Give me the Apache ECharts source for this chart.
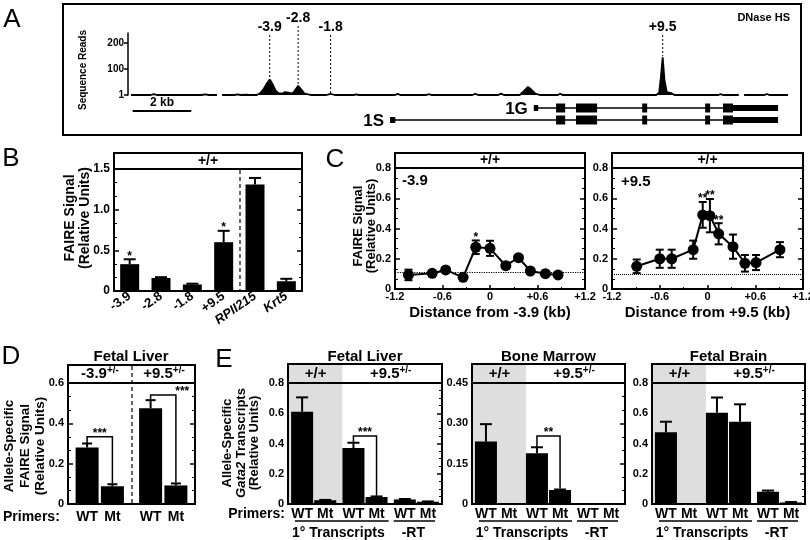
<!DOCTYPE html>
<html>
<head>
<meta charset="utf-8">
<script src="https://cdn.jsdelivr.net/npm/echarts@6/dist/echarts.min.js"></script>
<style>
  html, body { margin: 0; padding: 0; background: #fff; }
  #chart { width: 810px; height: 540px; }
</style>
</head>
<body>
<div id="chart"></div>
<script>
// ---------- A: DNase HS track (kb, sequence reads; '-' = no coverage) ----------
const dnaseTrack = [
  [-8.66, 1], [-7.98, 1], [-7.88, 4], [-7.78, 1], [-6.25, 1], [-6.12, 3], [-6.0, 1], [-5.72, 1],
  [-5.64, '-'],
  [-5.55, 1], [-5.12, 1], [-5.02, 3], [-4.92, 1], [-4.72, 2], [-4.6, 1],
  [-4.36, 1], [-4.24, 8], [-4.12, 25], [-4.02, 45], [-3.92, 60], [-3.82, 42], [-3.72, 18], [-3.62, 8],
  [-3.5, 6], [-3.4, 12], [-3.28, 10], [-3.15, 6], [-3.06, 18], [-2.95, 36], [-2.84, 22], [-2.73, 6],
  [-2.6, 3], [-2.5, 1], [-1.98, 1], [-1.84, 5], [-1.7, 1], [-1.05, 1], [-0.96, 3], [-0.88, 1],
  [0.36, 1], [0.45, 5], [0.54, 1], [1.43, 1], [1.51, 4], [1.6, 1], [3.0, 1], [3.1, 5], [3.2, 1],
  [3.88, 1], [3.98, 6], [4.08, 1], [4.62, 1], [4.75, 15], [4.9, 32], [5.03, 20], [5.15, 6], [5.3, 1],
  [5.92, 1], [6.0, 6], [6.08, 1], [6.74, 1], [6.8, 3], [6.86, 1], [8.14, 1], [8.2, 3], [8.26, 1],
  [9.28, 1], [9.38, 10], [9.44, 70], [9.5, 145], [9.56, 60], [9.64, 12], [9.8, 8], [9.9, 1],
  [11.4, 1], [11.48, 4], [11.56, 1], [12.1, 1],
  [12.19, '-'],
  [12.28, 1], [12.98, 1], [13.06, 5], [13.14, 1], [13.78, 1]
];
const readTicks = [1, 100, 200];
const hotspotNames = ['-3.9', '-2.8', '-1.8', '+9.5'];
const hotspotKb = [-3.92, -2.95, -1.84, 9.5];
const hotspotPeak = [60, 36, 5, 145];

// gene models (exon start / end in kb)
const transcripts = ['1S', '1G'];
const exon1GStart = [5.1, 5.86, 6.54, 8.8, 10.95, 11.56, 11.9];
const exon1GEnd = [5.25, 6.17, 7.26, 8.97, 11.12, 11.9, 13.44];
const exon1SStart = [0.19, 5.86, 6.54, 8.8, 10.95, 11.56, 11.9];
const exon1SEnd = [0.37, 6.17, 7.26, 8.97, 11.12, 11.9, 13.44];
const exonKind = ['utr', 'cds', 'cds', 'cds', 'cds', 'cds', 'utr'];

// ---------- B: FAIRE, +/+ ----------
const bCats = ['-3.9', '-2.8', '-1.8', '+9.5', 'RPII215', 'Krt5'];
const bVals = [0.33, 0.16, 0.08, 0.60, 1.31, 0.12];
const bErr = [0.06, 0.01, 0.01, 0.14, 0.08, 0.03];
const bStars = ['*', '', '', '*', '', ''];

// ---------- C: FAIRE scan ----------
const cLeftKb = [-1.03, -0.73, -0.56, -0.34, -0.18, 0.0, 0.2, 0.36, 0.51, 0.7, 0.86];
const cLeftVal = [0.093, 0.104, 0.126, 0.077, 0.276, 0.269, 0.154, 0.207, 0.119, 0.101, 0.093];
const cLeftErr = [0.035, 0.01, 0.012, 0.01, 0.045, 0.05, 0.02, 0.015, 0.012, 0.01, 0.01];
const cLeftStars = ['', '', '', '', '*', '', '', '', '', '', ''];
const cLeftBase = 0.11;
const cRightKb = [-0.89, -0.6, -0.45, -0.18, -0.06, 0.03, 0.14, 0.32, 0.47, 0.61, 0.91];
const cRightVal = [0.15, 0.2, 0.2, 0.26, 0.49, 0.485, 0.365, 0.28, 0.17, 0.175, 0.26];
const cRightErr = [0.045, 0.06, 0.06, 0.06, 0.085, 0.11, 0.07, 0.08, 0.055, 0.05, 0.05];
const cRightStars = ['', '', '', '', '**', '**', '**', '', '', '', ''];
const cRightBase = 0.1;

// ---------- D: allele-specific FAIRE, fetal liver ----------
const dCats = ['-3.9', '+9.5'];
const dWT = [0.28, 0.475];
const dWTErr = [0.02, 0.04];
const dMt = [0.088, 0.092];
const dMtErr = [0.01, 0.01];
const dBracketCat = [0, 1];
const dBracketLevel = [0.334, 0.54];
const dBracketStars = ['***', '***'];

// ---------- E: allele-specific Gata2 transcripts ----------
const eCats = ['+/+', '+9.5', '-RT'];
const eLiverWT = [0.61, 0.37, 0.03];
const eLiverWTErr = [0.095, 0.035, 0.003];
const eLiverMt = [0.025, 0.046, 0.015];
const eLiverMtErr = [0.002, 0.004, 0.002];
const eMarrowWT = [0.232, 0.189, 0.002];
const eMarrowWTErr = [0.065, 0.022, 0];
const eMarrowMt = [0.001, 0.052, 0.001];
const eMarrowMtErr = [0, 0.002, 0];
const eBrainWT = [0.474, 0.604, 0.081];
const eBrainWTErr = [0.07, 0.1, 0.008];
const eBrainMt = [0.002, 0.544, 0.01];
const eBrainMtErr = [0, 0.115, 0.003];

// ---------- helpers ----------
const F = 'Liberation Sans';
const font = (s, w) => `${w || 'bold'} ${s}px "${F}"`;
const BLACK = '#000';

function txt(x, y, text, size, opts) {
  opts = opts || {};
  return {
    type: 'text', x, y, z: 30, rotation: opts.rotation || 0,
    style: Object.assign({
      text, font: font(size, opts.weight), fill: BLACK,
      align: opts.align || 'center', verticalAlign: opts.valign || 'middle',
      textAlign: opts.align || 'center', textVerticalAlign: opts.valign || 'middle',
      lineHeight: opts.lineHeight
    }, opts.style || {})
  };
}
function seg(x1, y1, x2, y2, w, dash) {
  return { type: 'line', z: 25, shape: { x1, y1, x2, y2 }, style: { stroke: BLACK, lineWidth: w || 2, lineDash: dash || null } };
}
function box(x1, y1, x2, y2) {
  return { type: 'rect', z: 25, shape: { x: x1, y: y1, width: x2 - x1, height: y2 - y1 }, style: { fill: 'none', stroke: BLACK, lineWidth: 2 } };
}
const supRich = {
  b: { fontFamily: F, fontWeight: 'bold', fontSize: 15, color: BLACK, lineHeight: 18 },
  s: { fontFamily: F, fontWeight: 'bold', fontSize: 10, color: BLACK, verticalAlign: 'top', lineHeight: 18, padding: [0, 0, 6, 0] }
};

function gridBox(left, right, top, bottom) {
  return { left, right, top, bottom, containLabel: false, outerBoundsMode: 'none', show: true, borderColor: BLACK, borderWidth: 2, backgroundColor: 'transparent' };
}
function valAxis(gi, max, interval, digits, side, size, minor) {
  return {
    type: 'value', gridIndex: gi, min: 0, max, interval, position: side,
    axisLine: { show: true, onZero: false, lineStyle: { color: BLACK, width: 2 } },
    axisTick: { show: true, inside: true, length: 5, lineStyle: { color: BLACK, width: 1.5 } },
    minorTick: { show: true, splitNumber: minor || 3, length: 3, lineStyle: { color: BLACK, width: 1 } },
    splitLine: { show: false }, minorSplitLine: { show: false },
    axisLabel: {
      show: side !== 'right', color: BLACK, fontFamily: F, fontWeight: 'bold', fontSize: size || 11, margin: 4,
      showMinLabel: true, showMaxLabel: true,
      formatter: v => (v === 0 ? '0' : v.toFixed(digits))
    }
  };
}
function wtMtAxis(gi, cats, off, margin) {
  const tok = { width: 2 * off, align: 'center', fontFamily: F, fontWeight: 'bold', fontSize: 14, color: BLACK };
  return {
    type: 'category', gridIndex: gi, data: cats,
    axisLine: { onZero: false, lineStyle: { color: BLACK, width: 2 } }, axisTick: { show: false },
    axisLabel: { interval: 0, margin, formatter: () => '{w|WT}{m|Mt}', rich: { w: tok, m: tok } }
  };
}
function barSeries(gi, vals, width, gap) {
  return { type: 'bar', xAxisIndex: gi, yAxisIndex: gi, data: vals, barWidth: width, barGap: gap, itemStyle: { color: BLACK }, z: 3, silent: true };
}
function errSeries(gi, xs, vals, errs, off, cap, both, stars) {
  return {
    type: 'custom', xAxisIndex: gi, yAxisIndex: gi, z: 5, silent: true,
    data: xs.map((x, i) => [x, vals[i], errs[i]]),
    renderItem: (params, api) => {
      const x0 = api.value(0), v = api.value(1), e = api.value(2);
      const mid = api.coord([x0, v]);
      const top = api.coord([x0, v + e]);
      const bot = api.coord([x0, v - e]);
      const x = mid[0] + off;
      const ln = (x1, y1, x2, y2) => ({ type: 'line', shape: { x1, y1, x2, y2 }, style: { stroke: BLACK, lineWidth: 2 } });
      const kids = [];
      if (e > 0) {
        kids.push(ln(x, top[1], x, both ? bot[1] : mid[1]));
        kids.push(ln(x - cap, top[1], x + cap, top[1]));
        if (both) kids.push(ln(x - cap, bot[1], x + cap, bot[1]));
      }
      const s = stars ? stars[params.dataIndex] : '';
      if (s) kids.push({ type: 'text', x, y: top[1] + 3, style: { text: s, font: font(12), fill: BLACK, align: 'center', verticalAlign: 'bottom' } });
      return { type: 'group', children: kids };
    }
  };
}
function bracketSeries(gi, cats, levels, wt, wtErr, mt, mtErr, stars, off, starDx) {
  return {
    type: 'custom', xAxisIndex: gi, yAxisIndex: gi, z: 6, silent: true,
    data: cats.map((c, i) => [c, levels[i], wt[c] + wtErr[c], mt[c] + mtErr[c] + 0.004]),
    renderItem: (params, api) => {
      const c = api.value(0);
      const pT = api.coord([c, api.value(1)]);
      const pL = api.coord([c, api.value(2)]);
      const pR = api.coord([c, api.value(3)]);
      const xl = pT[0] - off, xr = pT[0] + off;
      return {
        type: 'group', children: [
          { type: 'polyline', shape: { points: [[xl, pL[1]], [xl, pT[1]], [xr, pT[1]], [xr, pR[1]]] }, style: { stroke: BLACK, lineWidth: 1.5, fill: 'none' } },
          { type: 'text', x: pT[0] + (starDx ? starDx[params.dataIndex] : 0), y: pT[1] + 3, style: { text: stars[params.dataIndex], font: font(12), fill: BLACK, align: 'center', verticalAlign: 'bottom' } }
        ]
      };
    }
  };
}

// ---------- layout ----------
const eLeft = [288, 472, 652];
const eRight = [442, 625, 805];
const D_W = 23, D_GAP = 0.1, D_OFF = D_W * (1 + D_GAP) / 2;
const E_W = 22, E_GAP = 0.05, E_OFF = E_W * (1 + E_GAP) / 2;

const grids = [
  { left: 128, right: 22, top: 33, bottom: 445, containLabel: false, outerBoundsMode: 'none' },   // 0 A track
  { left: 128, right: 22, top: 102, bottom: 414, containLabel: false, outerBoundsMode: 'none' },  // 1 A genes
  gridBox(114, 508, 169, 249),   // 2 B
  gridBox(395, 225, 168, 251),   // 3 C left
  gridBox(612, 7, 168, 251),     // 4 C right
  gridBox(68, 615, 383, 36),     // 5 D
  gridBox(eLeft[0], 810 - eRight[0], 383, 36),  // 6 E liver
  gridBox(eLeft[1], 810 - eRight[1], 383, 36),  // 7 E marrow
  gridBox(eLeft[2], 810 - eRight[2], 383, 36)   // 8 E brain
];

const kbAxis = gi => ({ type: 'value', gridIndex: gi, min: -8.76, max: 13.78, show: false });
const cXAxis = (gi, name) => ({
  type: 'value', gridIndex: gi, min: -1.2, max: 1.2, interval: 0.6,
  axisLine: { onZero: false, lineStyle: { color: BLACK, width: 2 } },
  axisTick: { inside: true, length: 4, lineStyle: { color: BLACK, width: 1.5 } },
  minorTick: { show: true, splitNumber: 2, length: 2, lineStyle: { color: BLACK } },
  splitLine: { show: false },
  axisLabel: {
    color: BLACK, fontFamily: F, fontWeight: 'bold', fontSize: 11, margin: 2, showMinLabel: true, showMaxLabel: true,
    formatter: v => (Math.abs(v) < 1e-9 ? '0' : (v > 0 ? '+' : '') + v.toFixed(1))
  },
  name, nameLocation: 'middle', nameGap: 16,
  nameTextStyle: { color: BLACK, fontFamily: F, fontWeight: 'bold', fontSize: 15 }
});

const xAxes = [
  kbAxis(0), kbAxis(1),
  {
    type: 'category', gridIndex: 2, data: bCats,
    axisLine: { onZero: false, lineStyle: { color: BLACK, width: 2 } }, axisTick: { show: false },
    axisLabel: {
      interval: 0, rotate: 35, margin: 4,
      formatter: v => (v === 'RPII215' || v === 'Krt5' ? '{i|' + v + '}' : '{n|' + v + '}'),
      rich: {
        n: { fontFamily: F, fontWeight: 'bold', fontSize: 13, color: BLACK },
        i: { fontFamily: F, fontWeight: 'bold', fontStyle: 'italic', fontSize: 13, color: BLACK }
      }
    }
  },
  cXAxis(3, 'Distance from -3.9 (kb)'),
  cXAxis(4, 'Distance from +9.5 (kb)'),
  wtMtAxis(5, dCats, D_OFF, 6),
  wtMtAxis(6, eCats, E_OFF, 3),
  wtMtAxis(7, eCats, E_OFF, 3),
  wtMtAxis(8, eCats, E_OFF, 3)
];

const yAxes = [
  {
    type: 'value', gridIndex: 0, min: 1, max: 238,
    axisLine: { show: true, onZero: false, lineStyle: { color: BLACK, width: 1.5 } },
    axisTick: { show: true, length: 4, customValues: readTicks, lineStyle: { color: BLACK, width: 1.5 } },
    splitLine: { show: false },
    axisLabel: { customValues: readTicks, color: BLACK, fontFamily: F, fontWeight: 'bold', fontSize: 10, margin: 4 }
  },
  { type: 'category', gridIndex: 1, data: transcripts, show: false },
  valAxis(2, 1.5, 0.5, 1, 'left', 12, 3),
  valAxis(3, 0.8, 0.2, 1, 'left', 11, 3),
  valAxis(4, 0.8, 0.2, 1, 'left', 11, 3),
  valAxis(5, 0.6, 0.2, 1, 'left', 11, 3),
  valAxis(6, 0.8, 0.2, 1, 'left', 11, 4),
  valAxis(7, 0.45, 0.15, 2, 'left', 11, 3),
  valAxis(8, 0.8, 0.2, 1, 'left', 11, 4),
  // mirrored ticks on the right border
  valAxis(2, 1.5, 0.5, 1, 'right', 12, 3),
  valAxis(3, 0.8, 0.2, 1, 'right', 11, 3),
  valAxis(4, 0.8, 0.2, 1, 'right', 11, 3),
  valAxis(5, 0.6, 0.2, 1, 'right', 11, 3),
  valAxis(6, 0.8, 0.2, 1, 'right', 11, 4),
  valAxis(7, 0.45, 0.15, 2, 'right', 11, 3),
  valAxis(8, 0.8, 0.2, 1, 'right', 11, 4)
];

const exonSets = {
  '1S': [exon1SStart, exon1SEnd],
  '1G': [exon1GStart, exon1GEnd]
};

const series = [
  // A track
  {
    type: 'line', xAxisIndex: 0, yAxisIndex: 0, data: dnaseTrack, showSymbol: false, silent: true,
    connectNulls: false, lineStyle: { color: BLACK, width: 1.8 }, areaStyle: { color: BLACK, opacity: 1 }
  },
  // A gene models
  {
    type: 'custom', xAxisIndex: 1, yAxisIndex: 1, silent: true, z: 4,
    data: transcripts.map((t, i) => [i]),
    renderItem: (params, api) => {
      const name = transcripts[params.dataIndex];
      const [starts, ends] = exonSets[name];
      const y = api.coord([0, params.dataIndex])[1];
      const x0 = api.coord([starts[0], params.dataIndex])[0];
      const x1 = api.coord([ends[ends.length - 1], params.dataIndex])[0];
      const kids = [{ type: 'line', shape: { x1: x0, y1: y, x2: x1, y2: y }, style: { stroke: BLACK, lineWidth: 1.5 } }];
      starts.forEach((s, i) => {
        const a = api.coord([s, params.dataIndex])[0];
        const b = api.coord([ends[i], params.dataIndex])[0];
        const h = exonKind[i] === 'utr' ? 6 : 9;
        kids.push({ type: 'rect', shape: { x: a, y: y - h / 2, width: Math.max(b - a, 2), height: h }, style: { fill: BLACK } });
      });
      kids.push({ type: 'text', x: x0 - 6, y: y + 1, style: { text: name, font: font(17), fill: BLACK, align: 'right', verticalAlign: 'middle' } });
      return { type: 'group', children: kids };
    }
  },
  // B
  barSeries(2, bVals, 19),
  errSeries(2, bCats.map((c, i) => i), bVals, bErr, 0, 6, false, bStars),
  // C left
  {
    type: 'line', xAxisIndex: 3, yAxisIndex: 3, data: cLeftKb.map((k, i) => [k, cLeftVal[i]]),
    symbol: 'circle', symbolSize: 11, itemStyle: { color: BLACK }, lineStyle: { color: BLACK, width: 2 }, z: 4, silent: true,
    markLine: { silent: true, symbol: 'none', label: { show: false }, lineStyle: { type: 'dotted', color: BLACK, width: 1.2 }, data: [{ yAxis: cLeftBase }] }
  },
  errSeries(3, cLeftKb, cLeftVal, cLeftErr, 0, 4, true, cLeftStars),
  // C right
  {
    type: 'line', xAxisIndex: 4, yAxisIndex: 4, data: cRightKb.map((k, i) => [k, cRightVal[i]]),
    symbol: 'circle', symbolSize: 11, itemStyle: { color: BLACK }, lineStyle: { color: BLACK, width: 2 }, z: 4, silent: true,
    markLine: { silent: true, symbol: 'none', label: { show: false }, lineStyle: { type: 'dotted', color: BLACK, width: 1 }, data: [{ yAxis: cRightBase }] }
  },
  errSeries(4, cRightKb, cRightVal, cRightErr, 0, 4, true, cRightStars),
  // D
  barSeries(5, dWT, D_W, (D_GAP * 100) + '%'),
  barSeries(5, dMt, D_W, (D_GAP * 100) + '%'),
  errSeries(5, [0, 1], dWT, dWTErr, -D_OFF, 5, false),
  errSeries(5, [0, 1], dMt, dMtErr, D_OFF, 5, false),
  bracketSeries(5, dBracketCat, dBracketLevel, dWT, dWTErr, dMt, dMtErr, dBracketStars, D_OFF, [0, 19])
];

const eSets = [
  [eLiverWT, eLiverWTErr, eLiverMt, eLiverMtErr, [1], [0.45], ['***']],
  [eMarrowWT, eMarrowWTErr, eMarrowMt, eMarrowMtErr, [1], [0.253], ['**']],
  [eBrainWT, eBrainWTErr, eBrainMt, eBrainMtErr, [], [], []]
];
eSets.forEach((s, k) => {
  const gi = 6 + k;
  series.push(barSeries(gi, s[0], E_W, (E_GAP * 100) + '%'));
  series.push(barSeries(gi, s[2], E_W, (E_GAP * 100) + '%'));
  series.push(errSeries(gi, [0, 1, 2], s[0], s[1], -E_OFF, 6, false));
  series.push(errSeries(gi, [0, 1, 2], s[2], s[3], E_OFF, 6, false));
  if (s[4].length) series.push(bracketSeries(gi, s[4], s[5], s[0], s[1], s[2], s[3], s[6], E_OFF));
});

// ---------- static graphics ----------
const gfx = [];
// panel letters
[['A', 12, 20], ['B', 11, 159], ['C', 335, 160], ['D', 11, 357], ['E', 224, 360]].forEach(([t, x, y]) => gfx.push(txt(x, y, t, 26, { weight: 'normal' })));

// A frame and labels
gfx.push(box(63, 4, 801, 135));
gfx.push(txt(790, 18, 'DNase HS', 11, { align: 'right' }));
gfx.push(txt(83, 70, 'Sequence Reads', 10, { rotation: Math.PI / 2 }));

// B
gfx.push(box(114, 153, 302, 169));
gfx.push(txt(208, 161.5, '+/+', 14));
gfx.push(seg(240, 170, 240, 290, 1.2, [4, 3]));
gfx.push(txt(78, 218, 'FAIRE Signal\n(Relative Units)', 14, { lineHeight: 15, rotation: Math.PI / 2 }));

// C
gfx.push(box(395, 153, 585, 168));
gfx.push(txt(490, 160.5, '+/+', 14));
gfx.push(box(612, 153, 803, 168));
gfx.push(txt(707.5, 160.5, '+/+', 14));
gfx.push(txt(402, 181, '-3.9', 15, { align: 'left' }));
gfx.push(txt(621, 182, '+9.5', 15, { align: 'left' }));
gfx.push(txt(365, 226, 'FAIRE Signal\n(Relative Units)', 13, { lineHeight: 12.5, rotation: Math.PI / 2 }));

// D
gfx.push(txt(131, 357, 'Fetal Liver', 15));
gfx.push(box(68, 365, 195, 383));
gfx.push(seg(132, 366, 132, 503, 1.2, [4, 3]));
gfx.push(txt(100, 374, '{b|-3.9}{s|+/-}', 15, { style: { rich: supRich } }));
gfx.push(txt(164, 374, '{b|+9.5}{s|+/-}', 15, { style: { rich: supRich } }));
gfx.push(txt(25, 446, 'Allele-Specific\nFAIRE Signal\n(Relative Units)', 13.5, { lineHeight: 15.5, rotation: Math.PI / 2 }));
gfx.push(txt(3, 517, 'Primers:', 14, { align: 'left' }));

// E
const eTitles = ['Fetal Liver', 'Bone Marrow', 'Fetal Brain'];
eLeft.forEach((L, k) => {
  const R = eRight[k];
  const cw = (R - L) / 3;
  gfx.push({ type: 'rect', z: 1, shape: { x: L + 1, y: 365, width: cw + 2, height: 138 }, style: { fill: '#dedede' } });
  gfx.push(box(L, 364, R, 383));
  gfx.push(txt((L + R) / 2, 357, eTitles[k], 15));
  gfx.push(txt(L + cw / 2 + 2, 374, '+/+', 15));
  gfx.push(txt((L + cw + R) / 2, 374, '{b|+9.5}{s|+/-}', 15, { style: { rich: supRich } }));
  gfx.push(seg(L + 7, 521, L + 2 * cw - 2, 521, 1.5));
  gfx.push(seg(L + 2 * cw + 3, 521, R - 7, 521, 1.5));
  gfx.push(txt(L + cw - 1, 533, '1° Transcripts', 14));
  gfx.push(txt(L + 2.5 * cw - 3, 533, '-RT', 14));
});
gfx.push(txt(285, 514, 'Primers:', 14, { align: 'right' }));
gfx.push(txt(241, 443, 'Allele-Specific\n{i|Gata2} Transcripts\n(Relative Units)', 13, {
  lineHeight: 13.5, rotation: Math.PI / 2,
  style: { rich: { i: { fontFamily: F, fontWeight: 'bold', fontStyle: 'italic', fontSize: 13, color: BLACK, lineHeight: 13.5 } } }
}));

const chart = echarts.init(document.getElementById('chart'), null, { renderer: 'canvas' });
chart.setOption({
  animation: false,
  backgroundColor: '#fff',
  textStyle: { fontFamily: F },
  grid: grids,
  xAxis: xAxes,
  yAxis: yAxes,
  series
});

// hotspot labels and scale bar placed through the track axes
hotspotNames.forEach((name, i) => {
  const p = chart.convertToPixel({ gridIndex: 0 }, [hotspotKb[i], hotspotPeak[i]]);
  const ly = name === '-2.8' ? 18 : 27;
  gfx.push(txt(p[0], ly, name, 14));
  gfx.push(seg(p[0], ly + 8, p[0], p[1] - 1, 1, [2, 2]));
});
const s0 = chart.convertToPixel({ gridIndex: 1 }, [-8.6, 0]);
const s1 = chart.convertToPixel({ gridIndex: 1 }, [-6.6, 0]);
gfx.push(seg(s0[0], 111, s1[0], 111, 2));
gfx.push(txt((s0[0] + s1[0]) / 2, 103, '2 kb', 12));

chart.setOption({ graphic: { elements: gfx } });
</script>
</body>
</html>
